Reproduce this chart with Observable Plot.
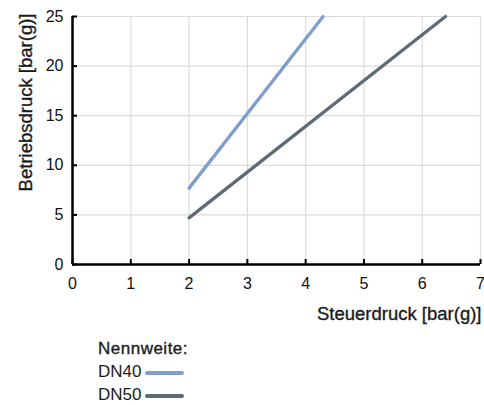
<!DOCTYPE html>
<html>
<head>
<meta charset="utf-8">
<script src="https://cdn.jsdelivr.net/npm/d3@7"></script>
<script src="https://cdn.jsdelivr.net/npm/@observablehq/plot@0.6"></script>
<style>
  html, body { margin: 0; padding: 0; background: #fff; }
  body { width: 484px; height: 405px; overflow: hidden; font-family: "Liberation Sans", Arial, sans-serif; }
  #legend { position: absolute; left: 98px; top: 337px; font-size: 17px; color: #1a1a1a; line-height: 23px; }
  #legend .title { -webkit-text-stroke: 0.35px #1a1a1a; letter-spacing: 0.5px; }
  #legend .row { display: flex; align-items: center; }
  #legend .sw { display: inline-block; width: 39px; height: 3.5px; border-radius: 2px; margin-left: 4px; margin-top: 3px; }
</style>
</head>
<body>
<div id="chart"></div>
<div id="legend"></div>
<script>
const seriesNames = ["DN40", "DN50"];
const seriesColors = ["#7e9fce", "#5d6c74"];
const steuerdruck = { DN40: [2, 4.3], DN50: [2, 6.4] };
const betriebsdruck = { DN40: [7.7, 25], DN50: [4.7, 25] };
const xTicks = [0, 1, 2, 3, 4, 5, 6, 7];
const yTicks = [0, 5, 10, 15, 20, 25];
const xLabel = "Steuerdruck [bar(g)]";
const yLabel = "Betriebsdruck [bar(g)]";
const legendTitle = "Nennweite:";

const rows = seriesNames.flatMap(s => steuerdruck[s].map((x, i) => ({ s, x, y: betriebsdruck[s][i] })));

const chart = Plot.plot({
  width: 484,
  height: 336,
  marginLeft: 72,
  marginRight: 4,
  marginTop: 16,
  marginBottom: 72,
  style: { fontFamily: "Liberation Sans, Arial, sans-serif", fontSize: "16px", color: "#111", overflow: "visible" },
  x: { domain: [0, 7] },
  y: { domain: [0, 25] },
  color: { domain: seriesNames, range: seriesColors },
  marks: [
    Plot.ruleX(xTicks.filter(d => d > 0), { stroke: "#dcdcdc", strokeWidth: 1.2 }),
    Plot.ruleY(yTicks.filter(d => d > 0), { stroke: "#dcdcdc", strokeWidth: 1.2 }),
    Plot.axisX({ ticks: xTicks, tickFormat: "d", tickSize: -5, tickPadding: 18, stroke: "#000", strokeWidth: 2, fontSize: 16, label: null }),
    Plot.axisY({ ticks: yTicks, tickFormat: "d", tickSize: -5, tickPadding: 14, stroke: "#000", strokeWidth: 2, fontSize: 16, label: null }),
    Plot.line(rows, { x: "x", y: "y", z: "s", stroke: "s", strokeWidth: 3.3 }),
    Plot.ruleX([0], { stroke: "#000", strokeWidth: 2.5 }),
    Plot.ruleY([0], { stroke: "#000", strokeWidth: 2.5 }),
    Plot.text([xLabel], { frameAnchor: "bottom-right", textAnchor: "end", dx: 1, dy: 55, fontSize: 18.5,
      fill: "#1a1a1a", stroke: "#1a1a1a", strokeWidth: 0.35, letterSpacing: 0.35 }),
    Plot.text([yLabel], { frameAnchor: "top-left", textAnchor: "end", rotate: -90, dx: -53.5, dy: -3, fontSize: 18.5,
      fill: "#1a1a1a", stroke: "#1a1a1a", strokeWidth: 0.35 })
  ]
});
document.getElementById("chart").append(chart);

const lg = document.getElementById("legend");
lg.innerHTML = `<div class="title">${legendTitle}</div>` +
  seriesNames.map((s, i) => `<div class="row"><span>${s}</span><span class="sw" style="background:${seriesColors[i]}"></span></div>`).join("");
</script>
</body>
</html>
